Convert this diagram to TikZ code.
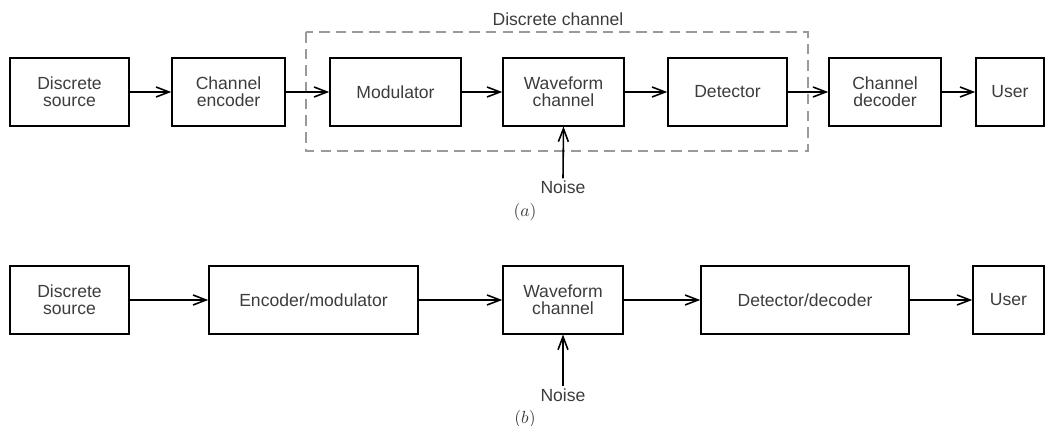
\documentclass[tikz,border=0pt]{standalone}
\usepackage{fontspec}
\setmainfont{Liberation Sans}
\usetikzlibrary{arrows.meta}
\definecolor{DGray}{HTML}{9a9a9a}
\definecolor{TGray}{HTML}{3c3c3c}
\tikzset{
    block/.style = {draw, rectangle, line width=0.9pt, align=center,
        text=TGray, font=\fontsize{10}{9.8}\selectfont,
        minimum height=1.35cm, inner sep=0pt},
    arrow/.style = {draw, line width=0.9pt, -{Straight Barb[length=2.6mm,width=2mm,line width=0.9pt]}},
    label/.style = {text=TGray, font=\fontsize{10}{9.8}\selectfont, inner sep=1pt}
}
\begin{document}
\begin{tikzpicture}[x=0.02cm,y=-0.02cm]
            \useasboundingbox (0,0) rectangle (1046,426);
            % (a)
            \node[block, minimum width=2.38cm] (srcA) at (69.5,92) {Discrete\\source};
            \node[block, minimum width=2.26cm] (encA) at (228.5,92) {Channel\\encoder};
            \node[block, minimum width=2.62cm] (modA) at (395.5,92) {Modulator};
            \node[block, minimum width=2.42cm] (wavA) at (563.5,92) {Waveform\\channel};
            \node[block, minimum width=2.38cm] (detA) at (727.5,92) {Detector};
            \node[block, minimum width=2.24cm] (decA) at (885,92) {Channel\\decoder};
            \node[block, minimum width=1.36cm] (userA) at (1010,92) {User};
            \draw[color=DGray, line width=0.8pt, dash pattern=on 6pt off 3.5pt] (306,32) rectangle (808,151);
            \node[label] (dchan) at (558,19) {Discrete channel};
            \node[label] (noiseA) at (563,187) {Noise};
            \node[label, font=\normalfont] (capA) at (525,212) {$(a)$};
            \draw[arrow] (srcA) -- (encA);
            \draw[arrow] (encA) -- (modA);
            \draw[arrow] (modA) -- (wavA);
            \draw[arrow] (wavA) -- (detA);
            \draw[arrow] (detA) -- (decA);
            \draw[arrow] (decA) -- (userA);
            \draw[arrow] (noiseA.north) -- (wavA.south);
            % (b)
            \node[block, minimum width=2.38cm] (srcB) at (69.5,300) {Discrete\\source};
            \node[block, minimum width=4.18cm] (encmodB) at (313.5,300) {Encoder/modulator};
            \node[block, minimum width=2.4cm] (wavB) at (563,300) {Waveform\\channel};
            \node[block, minimum width=4.16cm] (detdecB) at (805,300) {Detector/decoder};
            \node[block, minimum width=1.42cm] (userB) at (1008.5,300) {User};
            \node[label] (noiseB) at (563,395) {Noise};
            \node[label, font=\normalfont] (capB) at (525,419) {$(b)$};
            \draw[arrow] (srcB) -- (encmodB);
            \draw[arrow] (encmodB) -- (wavB);
            \draw[arrow] (wavB) -- (detdecB);
            \draw[arrow] (detdecB) -- (userB);
            \draw[arrow] (noiseB.north) -- (wavB.south);
            \end{tikzpicture}
\end{document}
